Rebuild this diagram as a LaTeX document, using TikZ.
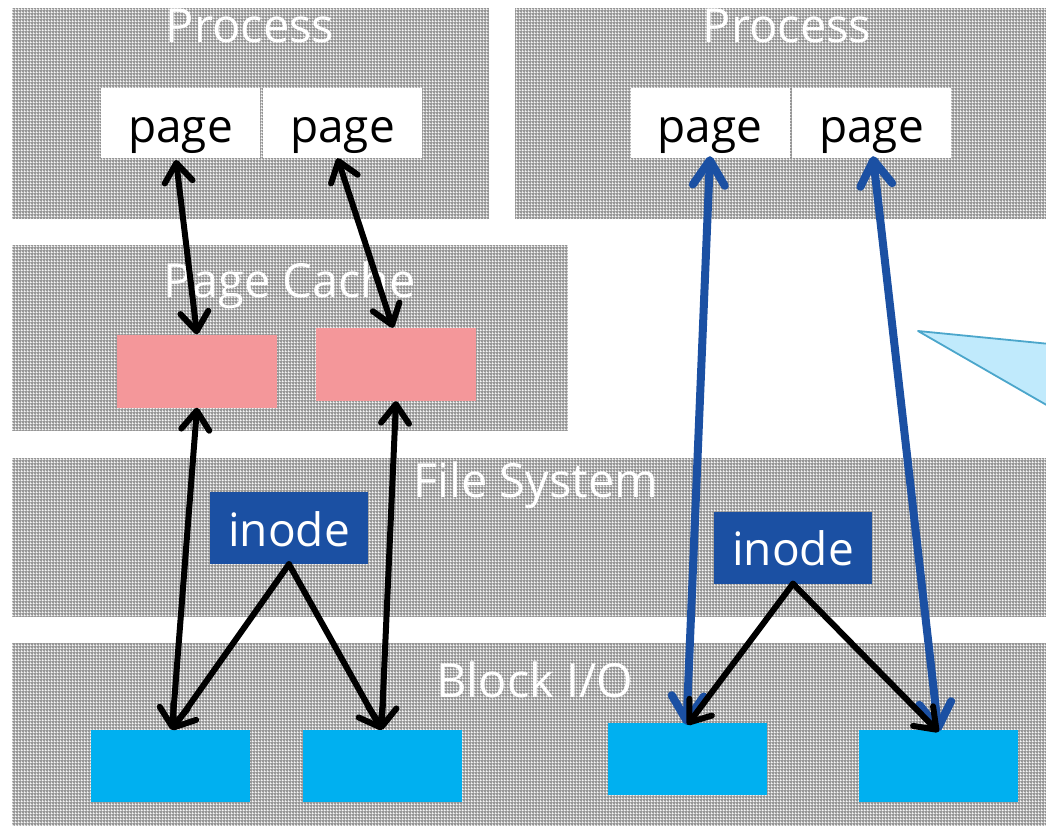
\documentclass[tikz,border=0pt]{standalone}
\usepackage{fontspec}
\setmainfont{Open Sans}
\usetikzlibrary{arrows.meta,patterns.meta}

\definecolor{layergray}{RGB}{150,150,150}
\definecolor{cachepink}{RGB}{244,151,154}
\definecolor{blockcyan}{RGB}{0,176,240}
\definecolor{inodeblue}{RGB}{27,80,163}
\definecolor{calloutfill}{RGB}{192,234,252}
\definecolor{calloutline}{RGB}{75,166,203}

% fine white grid laid over the layer bands
\pgfdeclarepattern{
  name=layergrid, type=uncolored,
  bottom left={\pgfpoint{0pt}{0pt}}, top right={\pgfpoint{3pt}{3pt}},
  tile size={\pgfpoint{3pt}{3pt}},
  code={
    \pgfpathrectangle{\pgfpoint{0pt}{0pt}}{\pgfpoint{3pt}{0.9pt}}
    \pgfpathrectangle{\pgfpoint{0pt}{0pt}}{\pgfpoint{0.9pt}{3pt}}
    \pgfusepath{fill}
  }
}

\tikzset{
  band/.style={fill=layergray, postaction={pattern=layergrid, pattern color=white}},
  bandtitle/.style={anchor=base, text=white, inner sep=0pt, font=\fontsize{47}{50}\selectfont},
  pagebox/.style={fill=white, inner sep=0pt, minimum width=159pt, minimum height=70pt,
    text height=40pt, text depth=0pt, font=\fontsize{46}{50}\selectfont},
  cachebox/.style={fill=cachepink, inner sep=0pt, minimum width=160pt, minimum height=73pt},
  blockbox/.style={fill=blockcyan, inner sep=0pt, minimum width=159pt, minimum height=72pt},
  inodebox/.style={fill=inodeblue, text=white, inner sep=0pt, minimum width=158pt, minimum height=72pt,
    text height=36pt, text depth=0pt, font=\fontsize{46}{50}\selectfont},
  blackarrow/.style={line width=6pt, line cap=round, black,
    arrows={-Straight Barb[length=19pt, width=28pt, line cap=round, line join=round]}},
  blackboth/.style={blackarrow,
    arrows={Straight Barb[length=19pt, width=28pt, line cap=round, line join=round]-Straight Barb[length=19pt, width=28pt, line cap=round, line join=round]}},
  blueboth/.style={line width=8pt, line cap=round, inodeblue,
    arrows={Straight Barb[length=25pt, width=32pt, line cap=round, line join=round]-Straight Barb[length=25pt, width=32pt, line cap=round, line join=round]}},
}

\begin{document}
\begin{tikzpicture}[x=1pt, y=-1pt]
\useasboundingbox (0,0) rectangle (1046,826);

% layer bands
\path[band] (12,8) rectangle (489,219);
\path[band] (515,8) rectangle (1046,219);
\path[band] (12,245) rectangle (568,431);
\path[band] (12,458) rectangle (1046,617);
\path[band] (12,643) rectangle (1046,826);

% band titles
\node[bandtitle] (procL) at (250,43) {Process};
\node[bandtitle] (procR) at (787,43) {Process};
\node[bandtitle] (cache) at (290,298) {Page Cache};
\node[bandtitle] (fs) at (536,497) {File System};
\node[bandtitle] (bio) at (535,697) {Block I/O};

% process pages
\node[pagebox] (pL1) at (180.5,123) {page};
\node[pagebox] (pL2) at (342.5,123) {page};
\node[pagebox] (pR1) at (710,123) {page};
\node[pagebox] (pR2) at (871.5,123) {page};

% page cache entries
\node[cachebox] (c1) at (197,371) {};
\node[cachebox] (c2) at (396,364.5) {};

% inodes
\node[inodebox] (iL) at (289,528) {inode};
\node[inodebox] (iR) at (793,547.5) {inode};

% disk blocks
\node[blockbox] (b1) at (170.5,766) {};
\node[blockbox] (b2) at (382.5,766) {};
\node[blockbox] (b3) at (687.5,759) {};
\node[blockbox] (b4) at (938.5,766) {};

% callout pointer
\filldraw[fill=calloutfill, draw=calloutline, line width=1.8pt, line join=round]
  (918,331) -- (1050,344) -- (1050,407) -- cycle;

% buffered path: page <-> page cache <-> block
\coordinate (aL1) at (176,160);
\draw[blackboth] (aL1) -- (c1.north);
\draw[blackboth] ([xshift=-5pt]pL2.south) -- ([xshift=-3pt]c2.north);
\draw[blackboth] (c1.south) -- ([xshift=1.5pt]b1.north);
\draw[blackboth] (c2.south) -- ([xshift=-1pt]b2.north);
\draw[blackarrow] (iL.south) -- ([xshift=1.5pt]b1.north);
\draw[blackarrow] (iL.south) -- ([xshift=-1pt]b2.north);

% direct path: page <-> block
\draw[blueboth] ([yshift=2pt]pR1.south) -- ([xshift=-1pt,yshift=-2pt]b3.north);
\draw[blueboth] ([xshift=1.5pt,yshift=2pt]pR2.south) -- ([yshift=-2pt]b4.north);
\draw[blackarrow] (iR.south) -- ([yshift=-2pt]b3.north);
\draw[blackarrow] (iR.south) -- ([yshift=-2pt]b4.north);
\end{tikzpicture}
\end{document}
